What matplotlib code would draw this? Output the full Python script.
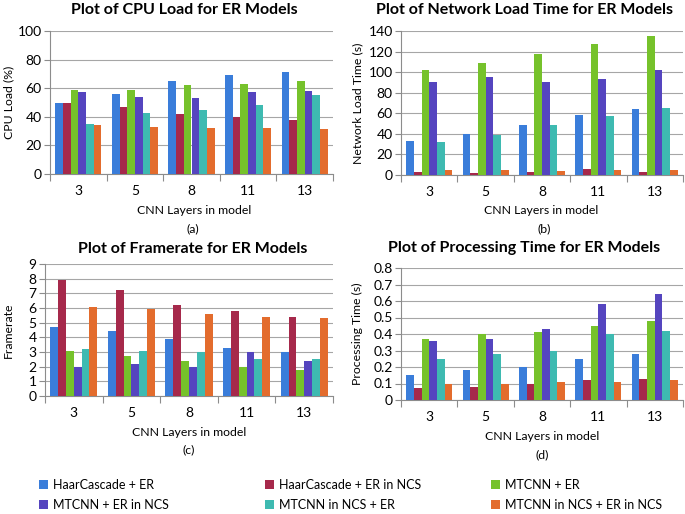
import matplotlib
matplotlib.use("Agg")
import matplotlib.pyplot as plt
import numpy as np
from matplotlib.patches import Patch

plt.rcParams['font.family'] = ['Lato', 'DejaVu Sans']

layers = ["3", "5", "8", "11", "13"]
series_names = ["HaarCascade + ER", "HaarCascade + ER in NCS", "MTCNN + ER",
                "MTCNN + ER in NCS", "MTCNN in NCS + ER", "MTCNN in NCS + ER in NCS"]
colors = ["#3A7DDA", "#A6294B", "#76C22B", "#5545BF", "#3EBAB1", "#E36C2D"]

cpu_haar = [50, 56, 65, 69.5, 71.5]
cpu_haar_ncs = [50, 47, 42, 40, 38]
cpu_mtcnn = [58.5, 59, 62.5, 63, 65]
cpu_mtcnn_er_ncs = [57, 54, 53, 57.5, 58]
cpu_mtcnn_ncs_er = [35, 43, 45, 48, 55]
cpu_mtcnn_ncs_er_ncs = [34, 33, 32, 32, 31.5]

net_haar = [32.7, 40, 49, 58.3, 64.2]
net_haar_ncs = [2.6, 2.3, 2.5, 5.8, 2.9]
net_mtcnn = [102.4, 108.5, 118, 127.7, 135]
net_mtcnn_er_ncs = [90.4, 95, 90.4, 93.6, 102]
net_mtcnn_ncs_er = [32, 39, 48.3, 57.4, 65]
net_mtcnn_ncs_er_ncs = [4.9, 4.9, 4.2, 4.5, 4.9]

fps_haar = [4.7, 4.4, 3.9, 3.3, 3.0]
fps_haar_ncs = [7.9, 7.2, 6.2, 5.8, 5.4]
fps_mtcnn = [3.1, 2.7, 2.4, 2.0, 1.8]
fps_mtcnn_er_ncs = [2.0, 2.2, 2.0, 3.0, 2.4]
fps_mtcnn_ncs_er = [3.2, 3.1, 3.0, 2.5, 2.5]
fps_mtcnn_ncs_er_ncs = [6.1, 5.9, 5.6, 5.4, 5.3]

proc_haar = [0.15, 0.18, 0.20, 0.25, 0.28]
proc_haar_ncs = [0.07, 0.08, 0.10, 0.12, 0.13]
proc_mtcnn = [0.37, 0.40, 0.41, 0.45, 0.48]
proc_mtcnn_er_ncs = [0.36, 0.37, 0.43, 0.58, 0.64]
proc_mtcnn_ncs_er = [0.25, 0.28, 0.30, 0.40, 0.42]
proc_mtcnn_ncs_er_ncs = [0.10, 0.10, 0.11, 0.11, 0.12]

W, H = 685, 514
fig = plt.figure(figsize=(W / 100, H / 100), dpi=100)

TICK_FS = 10
LAB_FS = 8.8
TITLE_FS = 11.5
LEG_FS = 9


def rect(l, t, r, b):
    return [l / W, 1 - b / H, (r - l) / W, (b - t) / H]


def fp(x, y):
    return x / W, 1 - y / H


def panel(box, data, ymax, ystep, ylabel, ylab_px, title, title_xy, xlab_xy, tag_xy, fmt):
    ax = fig.add_axes(rect(*box))
    n = len(data)
    x = np.arange(len(layers))
    bw = 0.136
    for i, vals in enumerate(data):
        ax.bar(x + (i - (n - 1) / 2) * bw, vals, bw, color=colors[i], zorder=3)
    ax.set_xlim(-0.5, len(layers) - 0.5)
    ax.set_ylim(0, ymax)
    yt = np.arange(0, ymax + ystep / 2, ystep)
    ax.set_yticks(yt)
    ax.set_yticklabels([fmt(v) for v in yt], fontsize=TICK_FS)
    ax.set_xticks(np.arange(-0.5, len(layers), 1.0))
    ax.set_xticklabels([])
    ax.set_xticks(x, minor=True)
    ax.set_xticklabels(layers, minor=True, fontsize=TICK_FS)
    ax.tick_params(axis='x', which='major', length=5, color='#8c8c8c', width=0.8)
    ax.tick_params(axis='x', which='minor', length=0, pad=8)
    ax.tick_params(axis='y', length=4, color='#8c8c8c', width=0.8, pad=2)
    for s in ['top', 'right']:
        ax.spines[s].set_visible(False)
    for s in ['left', 'bottom']:
        ax.spines[s].set_color('#8c8c8c')
        ax.spines[s].set_linewidth(0.8)
    ax.yaxis.grid(True, color='#a6a6a6', linewidth=0.8, zorder=0)
    ax.set_axisbelow(True)
    cy = (box[1] + box[3]) / 2
    fig.text(*fp(ylab_px, cy), ylabel, fontsize=LAB_FS, rotation=90, ha='center', va='center')
    fig.text(*fp(*title_xy), title, fontsize=TITLE_FS, fontweight='bold', ha='center', va='center')
    fig.text(*fp(*xlab_xy), "CNN Layers in model", fontsize=LAB_FS, ha='center', va='center')
    fig.text(*fp(*tag_xy[1:]), tag_xy[0], fontsize=LAB_FS, ha='center', va='center')
    return ax


fmt_int = lambda v: f"{int(round(v))}"
fmt_dec = lambda v: "0" if v == 0 else f"{v:.1f}"

panel((50, 31, 333, 174),
      [cpu_haar, cpu_haar_ncs, cpu_mtcnn, cpu_mtcnn_er_ncs, cpu_mtcnn_ncs_er, cpu_mtcnn_ncs_er_ncs],
      100, 20, "CPU Load (%)", 9, "Plot of CPU Load for ER Models", (184, 10),
      (194, 211), ("(a)", 193, 229), fmt_int)

panel((401, 31, 683, 175),
      [net_haar, net_haar_ncs, net_mtcnn, net_mtcnn_er_ncs, net_mtcnn_ncs_er, net_mtcnn_ncs_er_ncs],
      140, 20, "Network Load Time (s)", 358, "Plot of Network Load Time for ER Models", (524, 10),
      (541, 211), ("(b)", 544, 229), fmt_int)

panel((45, 264, 333, 396),
      [fps_haar, fps_haar_ncs, fps_mtcnn, fps_mtcnn_er_ncs, fps_mtcnn_ncs_er, fps_mtcnn_ncs_er_ncs],
      9, 1, "Framerate", 8, "Plot of Framerate for ER Models", (193, 249),
      (189, 432), ("(c)", 189, 450), fmt_int)

panel((401, 268, 683, 400),
      [proc_haar, proc_haar_ncs, proc_mtcnn, proc_mtcnn_er_ncs, proc_mtcnn_ncs_er, proc_mtcnn_ncs_er_ncs],
      0.8, 0.1, "Processing Time (s)", 357, "Plot of Processing Time for ER Models", (524, 248),
      (542, 437), ("(d)", 542, 455), fmt_dec)

# Legend: 3 columns x 2 rows, each entry placed individually
col_x = [39, 265, 491]
row_y = [485, 505]
for k, name in enumerate(series_names):
    r, c = divmod(k, 3)
    fig.legend([Patch(facecolor=colors[k], edgecolor='none')], [name],
               loc='center left', bbox_to_anchor=fp(col_x[c], row_y[r]),
               frameon=False, fontsize=LEG_FS, handlelength=0.75, handleheight=0.75,
               handletextpad=0.35, borderpad=0, borderaxespad=0)

fig.savefig("out.png", dpi=100)
